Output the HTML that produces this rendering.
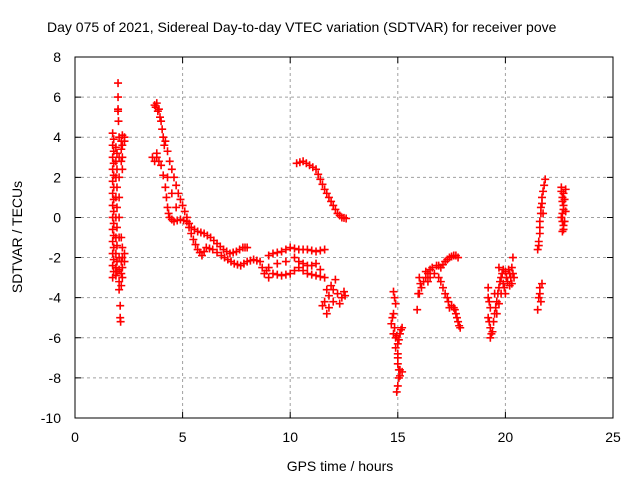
<!DOCTYPE html>
<html><head><meta charset="utf-8"><style>
html,body{margin:0;padding:0;background:#fff;}
svg{display:block;font-family:"Liberation Sans",sans-serif;}
</style></head><body>
<svg id="chart" width="640" height="480">
<text x="47" y="32" font-size="14" fill="#000">Day 075 of 2021, Sidereal Day-to-day VTEC variation (SDTVAR) for receiver pove</text>
<g id="grid"></g><g id="ticks"></g><g id="marks"></g>
<rect x="75" y="57" width="538" height="361" fill="none" stroke="#000" stroke-width="1"/>
<text x="340" y="471" font-size="14" text-anchor="middle">GPS time / hours</text>
<text transform="translate(22,237) rotate(-90)" font-size="14" text-anchor="middle">SDTVAR / TECUs</text>
</svg>
<script>
const xTicks=[0,5,10,15,20,25];
const yTicks=[8,6,4,2,0,-2,-4,-6,-8,-10];
const timesH=[1.75,1.75,1.75,1.75,1.75,1.75,1.75,1.75,1.75,1.75,1.75,1.75,1.75,1.9,1.9,1.9,1.9,1.9,1.9,1.9,1.9,1.9,2.05,2.05,2.05,2.05,2.05,2.05,2.05,2.05,2.05,2.05,2.2,2.2,2.2,2.2,2.2,2.2,2.2,2.2,2.3,2.3,2.3,2.3,2.0,2.0,2.0,2.02,2.0,2.1,2.1,2.12,
3.7,3.8,3.9,4.0,4.1,3.6,3.7,3.8,4.2,4.4,4.6,4.8,5.0,5.2,5.4,5.7,6.0,6.3,6.6,6.9,7.2,7.5,7.8,8.0,3.8,4.0,4.2,4.3,4.4,4.6,4.9,5.2,5.3,5.5,5.7,5.9,6.1,6.4,6.8,7.1,7.4,7.7,8.0,8.3,8.6,8.8,9.0,
9.2,9.6,10.0,10.4,10.8,11.2,11.6,9.2,9.6,10.0,10.4,10.8,11.2,11.6,10.4,10.8,11.2,11.6,11.8,12.0,12.2,12.4,12.5,11.9,12.1,
10.3,10.6,10.9,11.2,11.4,11.6,11.8,12.0,12.2,12.4,12.6,
14.8,14.9,14.8,14.7,14.8,14.9,15.0,15.1,15.2,15.0,15.0,15.05,15.1,15.0,14.95,15.2,
15.9,15.95,16.0,16.1,16.3,16.5,16.8,17.0,17.2,17.4,17.6,17.8,16.9,17.1,17.3,17.4,17.6,17.7,17.8,17.9,16.7,16.4,
19.2,19.2,19.3,19.2,19.3,19.3,19.4,19.5,19.6,19.7,19.8,19.7,19.9,20.0,20.1,20.2,20.3,20.35,20.4,20.3,19.9,19.6,19.5,
21.5,21.55,21.6,21.6,21.65,21.7,21.8,21.85,21.5,21.55,21.6,21.7,21.75,
22.6,22.7,22.65,22.7,22.6,22.7,22.65,22.8,22.8,22.75,
1.8,1.8,1.8,1.8,1.8,1.8,1.8,1.8,1.8,1.8,1.8,1.8,2.15,2.15,2.15,2.15,2.15,2.15,2.15,1.95,1.95,1.95,1.95,1.95,1.95,1.95,1.95,
3.75,3.85,3.95,4.05,4.15,4.3,4.5,4.7,4.9,5.1,5.3,5.55,5.85,6.15,6.45,6.75,7.05,7.35,7.65,7.9,3.9,4.1,4.25,4.35,4.5,4.75,5.05,5.4,5.6,5.8,6.0,6.25,6.6,6.95,7.25,7.55,7.85,8.15,8.45,8.7,8.9,4.3,4.5,4.7,
9.0,9.4,9.8,10.2,10.6,11.0,11.4,9.0,9.4,9.8,10.2,10.6,11.0,11.4,9.4,9.8,10.2,10.6,11.0,11.4,11.7,11.8,12.0,12.3,12.55,11.5,11.7,
10.45,10.75,11.05,11.3,11.5,11.7,11.9,12.1,12.3,12.5,
14.75,14.85,14.95,15.05,15.15,15.0,15.05,14.9,14.85,15.1,
16.05,16.2,16.4,16.6,16.9,17.1,17.3,17.5,17.7,17.0,17.2,17.35,17.5,17.65,17.75,17.85,16.5,16.3,16.0,
19.25,19.25,19.35,19.45,19.55,19.65,19.75,19.85,19.95,20.05,20.15,20.25,20.35,19.8,20.0,20.2,19.7,
21.55,21.6,21.65,21.7,21.75,21.6,21.65,
22.6,22.65,22.7,22.65,22.65,22.7,22.75];
const sdtvar=[4.2,3.6,3.0,2.4,1.8,1.2,0.6,0,-0.6,-1.2,-1.8,-2.4,-3.0,3.5,2.8,2.0,1.0,0,-1,-1.8,-2.5,-2.9,4.0,3.0,2.0,1.0,0,-1,-2,-2.6,-3.2,-3.6,4.1,3.6,3.0,2.4,-1.5,-2.0,-2.5,-3.0,4.0,3.8,-2.2,-1.8,6.7,6.0,5.4,4.8,5.3,-4.4,-5.0,-5.2,
5.6,5.7,5.4,4.8,4.0,3.0,2.8,3.2,3.8,2.8,2.0,1.2,0.6,0.0,-0.5,-0.7,-0.8,-1.0,-1.3,-1.6,-1.8,-1.7,-1.5,-1.5,3.0,2.6,1.5,0.5,0,-0.2,-0.1,-0.2,-0.5,-1.1,-1.6,-1.9,-1.5,-1.6,-1.9,-2.1,-2.3,-2.4,-2.2,-2.1,-2.2,-2.8,-2.5,
-1.8,-1.7,-1.5,-1.6,-1.6,-1.7,-1.6,-2.8,-2.9,-2.8,-2.5,-2.8,-2.9,-3.0,-2.2,-2.4,-2.3,-4.2,-4.5,-3.6,-3.8,-4.0,-3.7,-3.4,-3.1,
2.7,2.8,2.6,2.4,1.9,1.4,1.0,0.6,0.2,0.0,-0.05,
-3.7,-4.3,-4.8,-5.3,-5.8,-6.0,-6.3,-5.8,-5.5,-6.8,-7.3,-8.0,-7.6,-8.4,-8.7,-7.7,
-4.6,-3.8,-3.0,-3.5,-3.0,-2.6,-2.4,-2.5,-2.2,-2.0,-1.9,-2.0,-3.0,-3.5,-4.0,-4.5,-4.5,-4.8,-5.2,-5.5,-2.8,-3.2,
-3.5,-4.0,-4.5,-5.0,-5.5,-6.0,-5.7,-4.8,-4.2,-3.5,-3.0,-2.5,-3.3,-3.8,-3.2,-2.8,-2.5,-2.0,-3.0,-3.3,-2.6,-4.8,-3.8,
-1.6,-1.2,-0.8,-0.2,0.5,1.0,1.6,1.9,-4.6,-4.0,-3.5,-3.3,0.2,
1.5,1.2,0.8,0.4,0,-0.4,-0.7,1.4,0.3,-0.2,
3.9,3.3,2.7,2.1,1.5,0.9,0.3,-0.3,-0.9,-1.5,-2.1,-2.7,3.8,3.4,2.8,-2.2,-2.8,-1.0,-3.4,3.2,2.4,1.5,0.5,-0.5,-1.4,-2.2,-2.7,
5.5,5.3,5.0,4.4,3.6,3.3,2.4,1.6,0.9,0.3,-0.3,-0.6,-0.75,-0.9,-1.15,-1.45,-1.7,-1.75,-1.6,-1.5,2.8,2.1,1.0,0.2,-0.1,-0.15,-0.15,-0.8,-1.35,-1.75,-1.7,-1.55,-1.75,-2.0,-2.2,-2.35,-2.3,-2.15,-2.15,-2.5,-2.65,2.0,1.2,0.5,
-1.9,-1.75,-1.6,-1.55,-1.6,-1.65,-1.65,-3.0,-2.85,-2.85,-2.65,-2.65,-2.85,-2.95,-2.3,-2.2,-2.0,-2.3,-2.4,-2.6,-3.6,-3.9,-4.2,-4.3,-3.9,-4.4,-4.8,
2.75,2.7,2.5,2.15,1.65,1.2,0.8,0.4,0.1,-0.02,
-5.0,-5.5,-5.9,-6.1,-5.6,-7.0,-7.6,-6.5,-4.0,-7.9,
-3.3,-3.2,-2.8,-2.5,-2.4,-2.35,-2.1,-1.95,-1.9,-3.2,-3.8,-4.2,-4.4,-4.6,-5.0,-5.4,-3.0,-2.7,-3.8,
-4.2,-5.2,-5.8,-5.2,-4.5,-3.8,-3.2,-2.8,-3.5,-3.0,-2.6,-3.0,-2.8,-3.8,-2.7,-3.4,-4.3,
-1.4,-0.5,0.2,0.7,1.3,-3.8,-4.2,
1.3,1.0,0.6,0.2,-0.2,-0.6,0.9];
const NS="http://www.w3.org/2000/svg";
const X0=75,X1=613,Y0=418,Y1=57;
function sx(v){return X0+(v-0)/(25-0)*(X1-X0);}
function sy(v){return Y0-(v-(-10))/(8-(-10))*(Y0-Y1);}
function mk(t,a){const e=document.createElementNS(NS,t);for(const k in a)e.setAttribute(k,a[k]);return e;}
const grid=document.getElementById('grid'),ticks=document.getElementById('ticks'),marks=document.getElementById('marks');
xTicks.forEach(v=>{const x=sx(v);
 if(v>0&&v<25){const g=mk('line',{x1:x,x2:x,y1:Y0,y2:Y1,stroke:'#a0a0a0','stroke-dasharray':'3,3'});
 
 grid.appendChild(g);}
 const t=mk('path',{d:`M${x},${Y0}v-6M${x},${Y1}v6`,stroke:'#000'});
 
 ticks.appendChild(t);
 const l=mk('text',{x:x,y:442,'font-size':14,'text-anchor':'middle'});l.textContent=v;
 
 ticks.appendChild(l);});
yTicks.forEach(v=>{const y=sy(v);
 if(v>-10&&v<8){const g=mk('line',{x1:X0,x2:X1,y1:y,y2:y,stroke:'#a0a0a0','stroke-dasharray':'3,3'});
 
 grid.appendChild(g);}
 const t=mk('path',{d:`M${X0},${y}h6M${X1},${y}h-6`,stroke:'#000'});
 
 ticks.appendChild(t);
 const l=mk('text',{x:61,y:y+5,'font-size':14,'text-anchor':'end'});l.textContent=v;
 
 ticks.appendChild(l);});
timesH.forEach((t,i)=>{const x=sx(t),y=sy(sdtvar[i]);
 const p=mk('path',{d:`M${x-4},${y}h8M${x},${y-4}v8`,stroke:'#ff0000','stroke-width':1.6});
 
 marks.appendChild(p);});
</script>
</body></html>
